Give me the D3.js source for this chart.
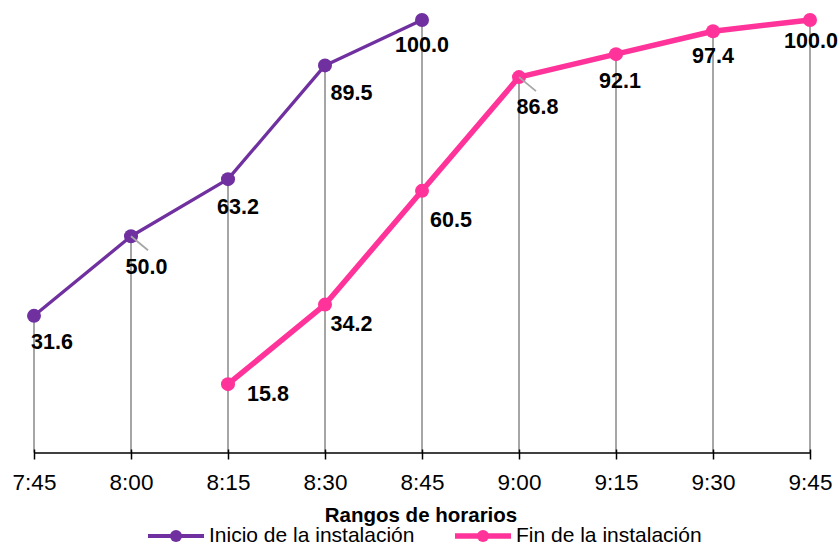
<!DOCTYPE html>
<html>
<head>
<meta charset="utf-8">
<script src="https://cdn.jsdelivr.net/npm/d3@7"></script>
<style>
  html, body { margin: 0; padding: 0; background: #fff; }
  svg { display: block; font-family: "Liberation Sans", Arial, sans-serif; }
</style>
</head>
<body>
<svg id="chart" width="840" height="546"></svg>
<script>
// Time slots on the horizontal axis
const categories = ["7:45", "8:00", "8:15", "8:30", "8:45", "9:00", "9:15", "9:30", "9:45"];

// Cumulative percentages per slot (null = no value)
const inicioValues = [31.6, 50.0, 63.2, 89.5, 100.0, null, null, null, null];
const finValues    = [null, null, 15.8, 34.2, 60.5, 86.8, 92.1, 97.4, 100.0];

const seriesNames = ["Inicio de la instalación", "Fin de la instalación"];
const axisTitle = "Rangos de horarios";

// Label placement relative to each point [dx, dy] (dy to baseline)
const inicioLabelOffset = [[18, 33], [15.5, 38], [10, 35], [26.5, 35], [0, 32]];
const finLabelOffset    = [[40, 17], [26.5, 26], [29, 36], [18.5, 37], [4, 34], [0, 32], [1, 28]];
const leaderSlots = { inicio: [1], fin: [5] };

const svg = d3.select("#chart");
const x = d3.scalePoint().domain(categories).range([34, 810]);
const y = d3.scaleLinear().domain([0, 100]).range([452.5, 20]);

const purple = "#7030A0", pink = "#FF3399", grey = "#A6A6A6";

// Drop lines from the highest point in each slot to the axis
categories.forEach((c, i) => {
  const vals = [inicioValues[i], finValues[i]].filter(v => v != null);
  const top = d3.max(vals);
  svg.append("line")
    .attr("x1", x(c)).attr("x2", x(c))
    .attr("y1", y(top)).attr("y2", y(0))
    .attr("stroke", grey).attr("stroke-width", 2);
});

// Category axis
const axis = d3.axisBottom(x).tickSizeInner(7).tickSizeOuter(0).tickPadding(20);
const gx = svg.append("g").attr("transform", `translate(0,${y(0)})`).call(axis);
gx.select(".domain").attr("stroke", "#000").attr("stroke-width", 1.6);
gx.selectAll(".tick line").attr("stroke", "#000").attr("stroke-width", 1.5).attr("y1", -3).attr("y2", 7);
gx.selectAll(".tick text").attr("font-size", 22.5).attr("fill", "#000")
  .attr("font-family", "Liberation Sans, Arial, sans-serif")
  .attr("dy", null).attr("y", 37.5);

svg.append("text")
  .attr("x", 421).attr("y", 522)
  .attr("text-anchor", "middle")
  .attr("font-size", 20.5).attr("font-weight", "bold")
  .text(axisTitle);

function drawSeries(values, color, width, offsets, leaders) {
  const pts = categories.map((c, i) => ({ c, v: values[i], i })).filter(d => d.v != null);
  const line = d3.line().x(d => x(d.c)).y(d => y(d.v));
  svg.append("path").datum(pts)
    .attr("d", line).attr("fill", "none")
    .attr("stroke", color).attr("stroke-width", width)
    .attr("stroke-linejoin", "round");
  svg.selectAll(null).data(pts).enter().append("circle")
    .attr("cx", d => x(d.c)).attr("cy", d => y(d.v))
    .attr("r", 7).attr("fill", color);
  // leader lines for labels pushed away from their point
  pts.forEach(d => {
    if (leaders.includes(d.i)) {
      svg.append("line")
        .attr("x1", x(d.c)).attr("y1", y(d.v))
        .attr("x2", x(d.c) + 17).attr("y2", y(d.v) + 14)
        .attr("stroke", grey).attr("stroke-width", 1.8);
    }
  });
  svg.selectAll(null).data(pts).enter().append("text")
    .attr("x", (d, k) => x(d.c) + offsets[k][0])
    .attr("y", (d, k) => y(d.v) + offsets[k][1])
    .attr("text-anchor", "middle")
    .attr("font-size", 21.5).attr("font-weight", "bold").attr("fill", "#000")
    .text(d => d.v.toFixed(1));
}

drawSeries(inicioValues, purple, 3.3, inicioLabelOffset, leaderSlots.inicio);
drawSeries(finValues, pink, 5.5, finLabelOffset, leaderSlots.fin);

// Legend
const legend = [
  { name: seriesNames[0], color: purple, width: 4, x0: 148 },
  { name: seriesNames[1], color: pink, width: 5.5, x0: 455 }
];
legend.forEach(l => {
  const g = svg.append("g");
  g.append("line").attr("x1", l.x0).attr("x2", l.x0 + 56).attr("y1", 536).attr("y2", 536)
    .attr("stroke", l.color).attr("stroke-width", l.width);
  g.append("circle").attr("cx", l.x0 + 28).attr("cy", 536).attr("r", 6).attr("fill", l.color);
  g.append("text").attr("x", l.x0 + 61).attr("y", 541.5)
    .attr("font-size", 21).attr("fill", "#000").text(l.name);
});
</script>
</body>
</html>
